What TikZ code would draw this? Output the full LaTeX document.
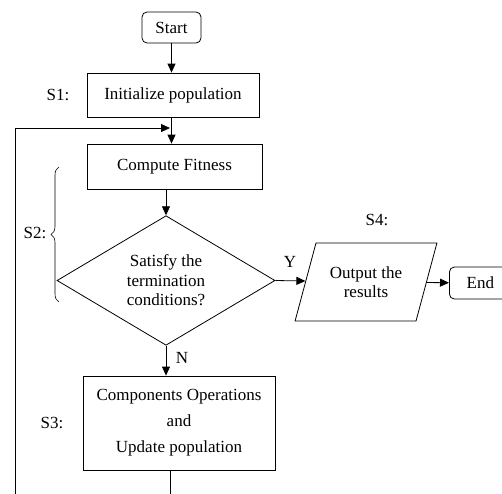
\documentclass[tikz,border=0pt]{standalone}
\usepackage{fontspec}
\setmainfont{Liberation Serif}
\usetikzlibrary{arrows.meta, positioning, shapes.geometric, decorations.pathreplacing}

\begin{document}
\begin{tikzpicture}[x=1pt, y=-1pt,
		every node/.style={font=\fontsize{17}{20}\selectfont},
		box/.style={draw, line width=0.8pt, inner sep=0pt},
		term/.style={box, rounded corners=5pt},
		flow/.style={line width=0.8pt, -{Triangle[length=9pt,width=8pt]}}]
			\useasboundingbox (0,0) rectangle (502,493);
			\node[term, minimum width=59, minimum height=31] (start) at (171.5,27.5) {Start};
			\node[box, minimum width=172, minimum height=44] (init) at (173,95) {Initialize population};
			\node[box, minimum width=175, minimum height=45] (fit) at (174.5,166.5) {Compute Fitness};
			\node[box, diamond, minimum width=218, minimum height=127, align=center, font=\fontsize{17}{19.5}\selectfont] (cond) at (166,280.5) {Satisfy the\\termination\\conditions?};
			\node[box, trapezium, trapezium left angle=64, trapezium right angle=116, trapezium stretches=true, minimum width=142, minimum height=78, align=center, font=\fontsize{17}{19}\selectfont] (out) at (366,282) {Output the\\results};
			\node[term, minimum width=62, minimum height=32, anchor=west] (end) at (449,283) {End};
			\node[box, minimum width=192, minimum height=94, align=center, font=\fontsize{17}{26}\selectfont] (ops) at (179,423) {Components Operations\\and\\Update population};
			\node (s1) at (58,95) {S1:};
			\node (s2) at (35,233) {S2:};
			\node (s3) at (52,423) {S3:};
			\node (s4) at (377,220) {S4:};
			\node (yes) at (290,262) {Y};
			\node (no) at (182,358) {N};
			\coordinate (join) at (170,128);
			\coordinate (ret) at (15,500);
			\coordinate (tail) at (170,500);
			\draw[flow] (start) -- (start |- init.north);
			\draw[flow] (init.south -| start) -- (fit.north -| start);
			\draw[flow] (ret) |- (join);
			\draw[flow] (fit.south -| cond.north) -- (cond.north);
			\draw[flow] (cond.east) -- (out);
			\draw[flow] (out) -- (end);
			\draw[flow] (cond.south) -- (ops.north -| cond.south);
			\draw[line width=0.8pt] (ops.south -| tail) -- (tail);
			\draw[line width=0.6pt, decorate, decoration={brace, amplitude=8pt}] (59,302) -- (59,167);
		\end{tikzpicture}
\end{document}
